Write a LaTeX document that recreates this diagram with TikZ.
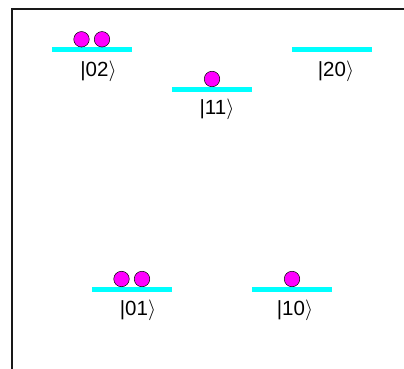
\documentclass[tikz,border=0pt]{standalone}
\usepackage{fontspec}
\setmainfont{Liberation Sans}
\definecolor{levelcol}{RGB}{0,255,255}
\definecolor{ballcol}{RGB}{255,0,255}
\begin{document}
\begin{tikzpicture}[x=1pt,y=-1pt,
  levelbar/.style={rectangle, fill=levelcol, draw=none, minimum width=80pt, minimum height=5pt, inner sep=0pt},
  ball/.style={circle, draw=black, fill=ballcol, line width=0.5pt, minimum size=15.5pt, inner sep=0pt},
  lbl/.style={font=\fontsize{20.5}{22}\selectfont, inner sep=0pt, anchor=center}]
\useasboundingbox (0,0) rectangle (404,369);
\coordinate (fb) at (11.5,369);
\coordinate (fc) at (11.5,9.5);
\coordinate (fr) at (404,9.5);
\draw[line width=2pt, black!90] (fb) -- (fc) -- (fr);
% levels
\node[levelbar] (L02) at (92,49.5) {};
\node[levelbar] (L11) at (212,89.5) {};
\node[levelbar] (L20) at (332,49.5) {};
\node[levelbar] (L01) at (132,289.5) {};
\node[levelbar] (L10) at (292,289.5) {};
% balls
\node[ball] (b02a) at (81.5,39.3) {};
\node[ball] (b02b) at (102,39.3) {};
\node[ball] (b11) at (212,79) {};
\node[ball] (b01a) at (121.5,279) {};
\node[ball] (b01b) at (142,279) {};
\node[ball] (b10) at (292,279) {};
% labels
\node[lbl] (t02) at (98.5,71.5) {|02$\rangle$};
\node[lbl] (t11) at (217,109.5) {|11$\rangle$};
\node[lbl] (t20) at (336,71.5) {|20$\rangle$};
\node[lbl] (t01) at (138,310.5) {|01$\rangle$};
\node[lbl] (t10) at (295,310.5) {|10$\rangle$};
\end{tikzpicture}
\end{document}
